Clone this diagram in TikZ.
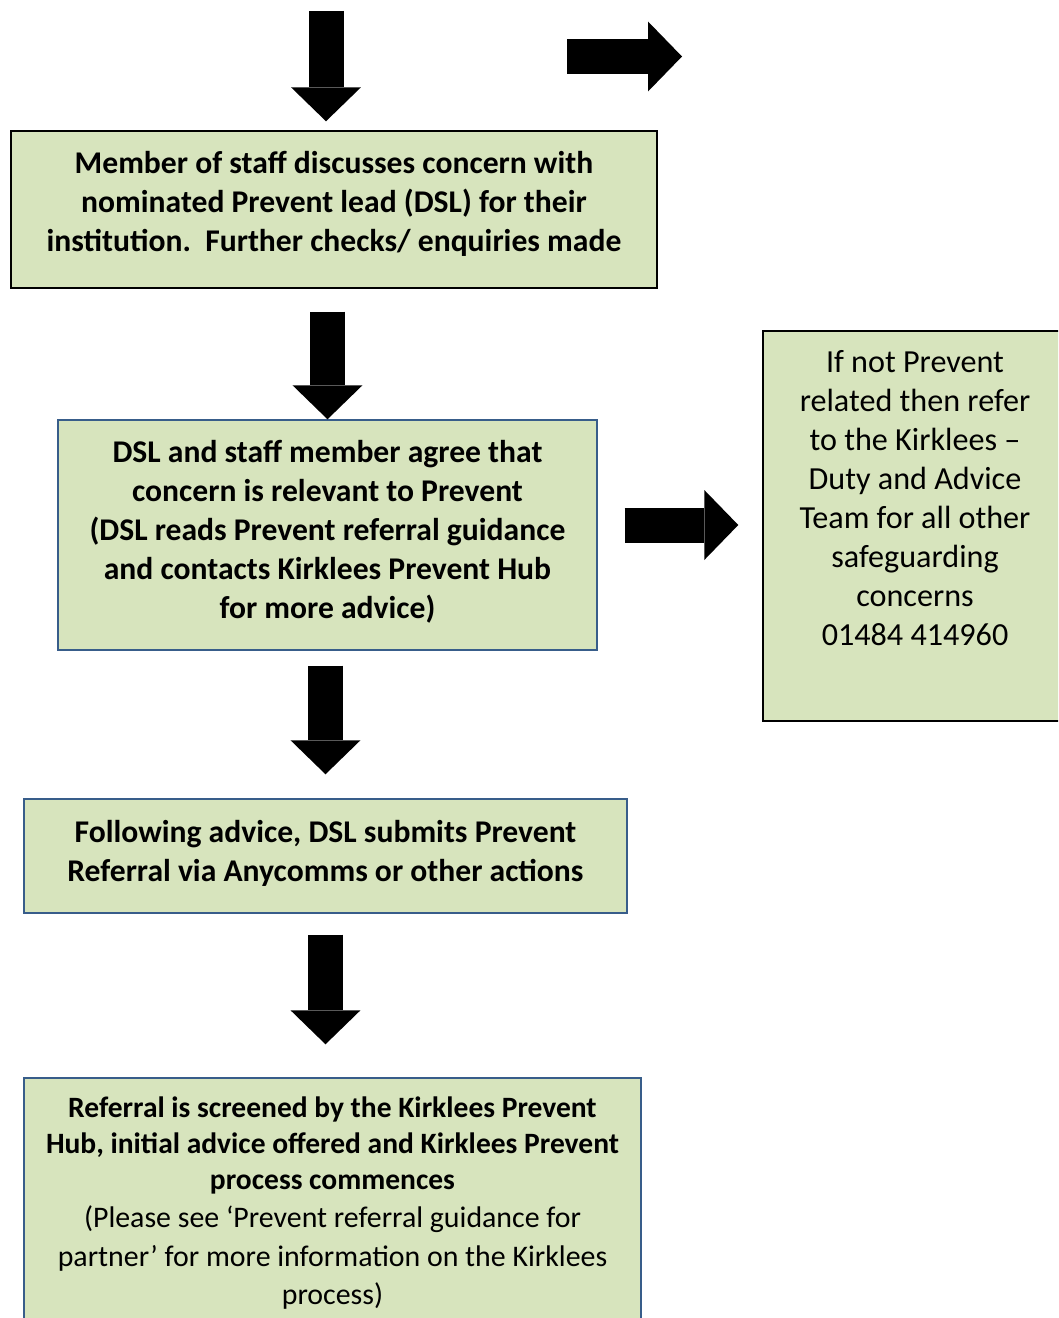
\documentclass[tikz,border=0pt]{standalone}
\usepackage{fontspec}
\setmainfont{Carlito}
\usetikzlibrary{arrows.meta}

\definecolor{stagefill}{HTML}{D7E4BD}
\definecolor{stageblue}{HTML}{385D8A}

% Text block, top aligned inside a box
\newcommand{\stagetext}[3]{\parbox[c][#1][t]{#2}{\centering #3}}

\begin{document}
\begin{tikzpicture}[x=0.02cm, y=-0.02cm,
    stage/.style={draw=#1, line width=0.85pt, fill=stagefill, align=center, inner sep=0pt,
                  font=\bfseries\fontsize{18}{22.2}\selectfont},
    stage/.default=black,
    blockarrow/.style={line width=0.7cm, -{Triangle[width=1.4cm, length=0.68cm, line width=0pt]}}]
    % Page size
    \clip (0,0) rectangle (1058,1318);

    % Boxes
    \node[stage, minimum width=12.92cm, minimum height=3.14cm] (discuss) at (334,209.5)
        {\stagetext{2.34cm}{12.6cm}{Member of staff discusses concern with\\nominated Prevent lead (DSL) for their\\institution.\ \ Further checks/ enquiries made}};
    \node[stage=stageblue, minimum width=10.78cm, minimum height=4.6cm] (agree) at (327.5,535)
        {\stagetext{3.8cm}{10.5cm}{DSL and staff member agree that\\concern is relevant to Prevent\\(DSL reads Prevent referral guidance\\and contacts Kirklees Prevent Hub\\for more advice)}};
    \node[stage, font=\fontsize{18.3}{22.2}\selectfont, minimum width=6.08cm, minimum height=7.8cm] (other) at (915,526)
        {\stagetext{7.04cm}{5.9cm}{If not Prevent\\related then refer\\to the Kirklees --\\Duty and Advice\\Team for all other\\safeguarding\\concerns\\01484 414960}};
    \node[stage=stageblue, minimum width=12.06cm, minimum height=2.28cm] (submit) at (325.5,856)
        {\stagetext{1.44cm}{11.8cm}{Following advice, DSL submits Prevent\\Referral via Anycomms or other actions}};
    \node[stage=stageblue, font=\fontsize{16.8}{20.4}\selectfont, minimum width=12.34cm, minimum height=5.64cm] (screen) at (332.5,1219)
        {\stagetext{4.88cm}{12cm}{\bfseries Referral is screened by the Kirklees Prevent\\Hub, initial advice offered and Kirklees Prevent\\process commences\\
         \mdseries\fontsize{17}{21.8}\selectfont (Please see ‘Prevent referral guidance for\\partner’ for more information on the Kirklees\\process)}};

    % Free arrow ends
    \coordinate (start) at (326,11);
    \coordinate (sidestart) at (567,56.5);
    \coordinate (sideend) at (682,56.5);

    % Arrows
    \draw[blockarrow, shorten >=0.18cm] (start) -- (start |- discuss.north);
    \draw[blockarrow] (sidestart) -- (sideend);
    \draw[blockarrow, shorten <=0.46cm] (agree.north |- discuss.south) -- (agree.north);
    \draw[blockarrow, shorten <=0.54cm, shorten >=0.48cm] ([yshift=0.2cm]agree.east) -- ([yshift=0.2cm]agree.east -| other.west);
    \draw[blockarrow, shorten <=0.3cm, shorten >=0.48cm] (submit.north |- agree.south) -- (submit.north);
    \draw[blockarrow, shorten <=0.42cm, shorten >=0.66cm] (submit.south) -- (submit.south |- screen.north);
\end{tikzpicture}
\end{document}
